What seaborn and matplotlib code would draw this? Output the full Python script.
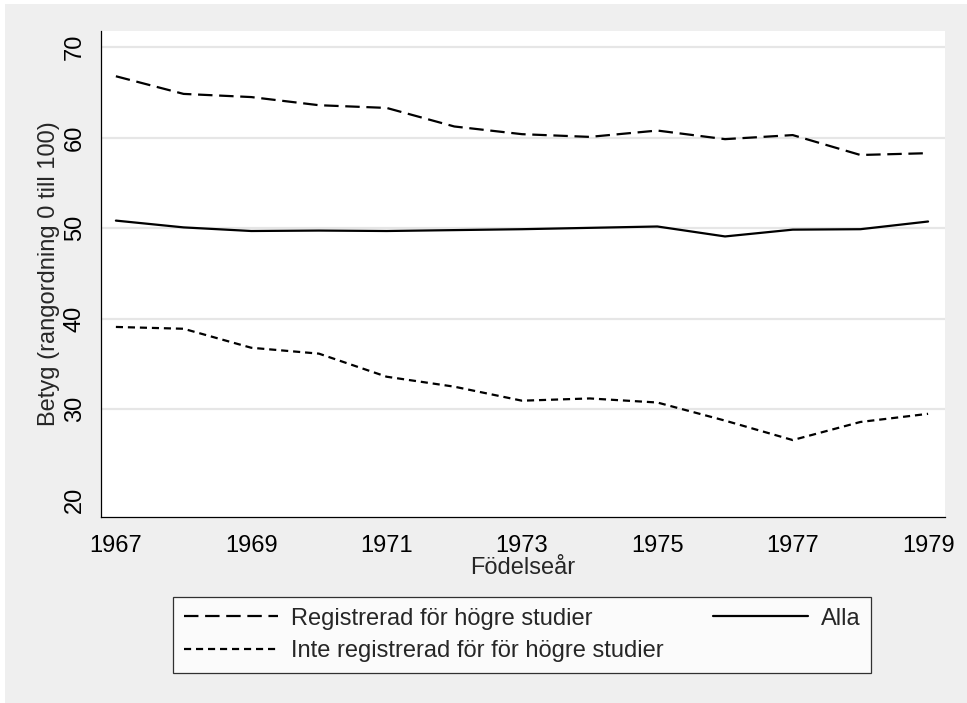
import pandas as pd
import numpy as np
import matplotlib.pyplot as plt
import matplotlib.patches as mpatches
import seaborn as sns

# Values
years = [1967, 1968, 1969, 1970, 1971, 1972, 1973, 1974, 1975, 1976, 1977, 1978, 1979]
registrerad = [66.8, 64.85, 64.5, 63.6, 63.3, 61.25, 60.4, 60.1, 60.8, 59.85, 60.3, 58.1, 58.3]
inte_registrerad = [39.1, 38.9, 36.8, 36.15, 33.6, 32.5, 30.95, 31.2, 30.75, 28.75, 26.6, 28.6, 29.5]
alla = [50.85, 50.1, 49.7, 49.75, 49.7, 49.8, 49.9, 50.05, 50.2, 49.1, 49.85, 49.9, 50.75]

series_names = ["Registrerad för högre studier",
                "Inte registrerad för för högre studier",
                "Alla"]
x_ticks = [1967, 1969, 1971, 1973, 1975, 1977, 1979]
y_ticks = [20, 30, 40, 50, 60, 70]

# long format for seaborn
df = pd.DataFrame({
    "year": years * 3,
    "value": registrerad + inte_registrerad + alla,
    "group": [series_names[0]] * len(years) + [series_names[1]] * len(years) + [series_names[2]] * len(years),
})

sns.set_style("white")
plt.rcParams['font.family'] = ['Liberation Sans', 'DejaVu Sans']
fs = 17

bg = "#efefef"
fig = plt.figure(figsize=(9.67, 7.03), dpi=100, facecolor=bg)
ax = fig.add_axes([101 / 967, 1 - 517 / 703, (945 - 101) / 967, (517 - 31) / 703])
ax.set_facecolor("white")

# thin white strip on top and left edges like the reference
fig.patches.append(mpatches.Rectangle((0, 1 - 4 / 703), 1, 4 / 703, transform=fig.transFigure,
                                      facecolor="white", edgecolor="none", zorder=-1))
fig.patches.append(mpatches.Rectangle((0, 0), 5 / 967, 1, transform=fig.transFigure,
                                      facecolor="white", edgecolor="none", zorder=-1))

dash_styles = {series_names[0]: (6.5, 3), series_names[1]: (3.2, 2.2), series_names[2]: ""}
sns.lineplot(data=df, x="year", y="value", style="group", dashes=dash_styles,
             style_order=series_names, color="black", linewidth=1.6, ax=ax, legend=False)

ax.set_xlim(1966.78, 1979.25)
ax.set_ylim(18.1, 71.8)
ax.set_xticks(x_ticks)
ax.set_yticks(y_ticks)
ax.tick_params(axis="both", direction="out", length=7, width=0.8, colors="black", labelsize=fs)
ax.tick_params(axis="x", pad=6)
ax.tick_params(axis="y", pad=4)
for lbl in ax.get_yticklabels():
    lbl.set_rotation(90)
    lbl.set_va("center")

ax.grid(axis="y", color="#e6e6e6", linewidth=1.6)
ax.get_ygridlines()[0].set_visible(False)

for side in ["top", "right"]:
    ax.spines[side].set_visible(False)
for side in ["left", "bottom"]:
    ax.spines[side].set_color("black")
    ax.spines[side].set_linewidth(0.9)

ax.set_xlabel("Födelseår", fontsize=fs, labelpad=0)
ax.set_ylabel("Betyg (rangordning 0 till 100)", fontsize=fs, labelpad=3)

# legend
handles = [plt.Line2D([], [], color="black", linewidth=1.6, dashes=dash_styles[series_names[0]]),
           plt.Line2D([], [], color="black", linewidth=1.6, dashes=dash_styles[series_names[1]]),
           plt.Line2D([], [], color="black", linewidth=1.6)]
leg = fig.legend(handles, series_names, ncol=2, loc="center",
                 bbox_to_anchor=(522 / 967, 1 - 635 / 703), fontsize=fs,
                 frameon=True, fancybox=False, shadow=False, handlelength=4.0,
                 columnspacing=2.1, handletextpad=0.55, borderpad=0.45, labelspacing=0.45)
leg.get_frame().set_edgecolor("black")
leg.get_frame().set_linewidth(0.9)
leg.get_frame().set_facecolor("white")

plt.savefig("out.png", dpi=100, facecolor=bg)
